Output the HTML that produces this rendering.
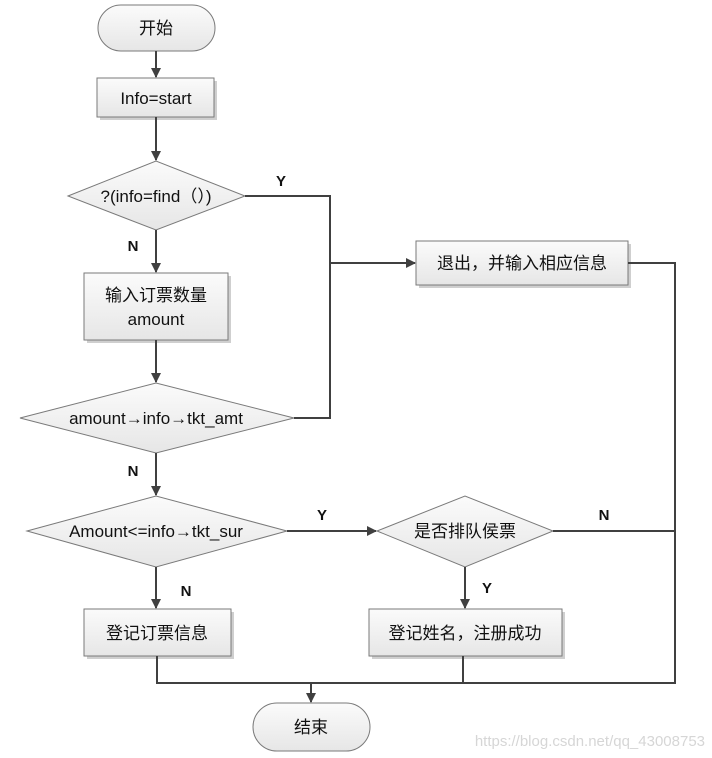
<!DOCTYPE html>
<html><head><meta charset="utf-8"><style>
html,body{margin:0;padding:0;background:#fff;}
svg{display:block;}
text{font-family:"Liberation Sans","Noto Sans CJK SC",sans-serif;fill:#111;}
</style></head><body>
<svg width="712" height="758" viewBox="0 0 712 758" xmlns="http://www.w3.org/2000/svg">
<defs>
<linearGradient id="g" x1="0" y1="0" x2="0" y2="1"><stop offset="0" stop-color="#fbfbfb"/><stop offset="1" stop-color="#e6e6e6"/></linearGradient>
<marker id="a" markerWidth="10" markerHeight="10" refX="9" refY="5" orient="auto" markerUnits="userSpaceOnUse"><path d="M0,0 L10,5 L0,10 z" fill="#404040"/></marker>
</defs>
<g fill="#cfcfcf">
<rect x="100" y="81" width="117" height="39"/>
<rect x="87" y="276" width="144" height="67"/>
<rect x="419" y="244" width="212" height="44"/>
<rect x="87" y="612" width="147" height="47"/>
<rect x="372" y="612" width="193" height="47"/>
</g>
<g stroke="#7a7a7a" stroke-width="1" fill="url(#g)">
<rect x="98" y="5" width="117" height="46" rx="23"/>
<rect x="97" y="78" width="117" height="39"/>
<polygon points="68,196 156,161 245,196 156,230"/>
<rect x="84" y="273" width="144" height="67"/>
<polygon points="20,418 156,383 294,418 156,453"/>
<rect x="416" y="241" width="212" height="44"/>
<polygon points="27,531 156,496 287,531 156,567"/>
<polygon points="377,531 465,496 553,531 465,567"/>
<rect x="84" y="609" width="147" height="47"/>
<rect x="369" y="609" width="193" height="47"/>
<rect x="253" y="703" width="117" height="48" rx="24"/>
</g>
<g stroke="#404040" stroke-width="2" fill="none">
<line x1="156" y1="51" x2="156" y2="77" marker-end="url(#a)"/>
<line x1="156" y1="117" x2="156" y2="160" marker-end="url(#a)"/>
<line x1="156" y1="230" x2="156" y2="272" marker-end="url(#a)"/>
<line x1="156" y1="340" x2="156" y2="382" marker-end="url(#a)"/>
<line x1="156" y1="453" x2="156" y2="495" marker-end="url(#a)"/>
<line x1="156" y1="567" x2="156" y2="608" marker-end="url(#a)"/>
<polyline points="245,196 330,196 330,418 294,418"/>
<line x1="330" y1="263" x2="415" y2="263" marker-end="url(#a)"/>
<polyline points="628,263 675,263 675,683 157,683 157,656"/>
<line x1="287" y1="531" x2="376" y2="531" marker-end="url(#a)"/>
<line x1="553" y1="531" x2="675" y2="531"/>
<line x1="465" y1="567" x2="465" y2="608" marker-end="url(#a)"/>
<line x1="463" y1="656" x2="463" y2="683"/>
<line x1="311" y1="683" x2="311" y2="702" marker-end="url(#a)"/>
</g>
<g font-size="17" text-anchor="middle">
<text x="156" y="34">开始</text>
<text x="156" y="104">Info=start</text>
<text x="156" y="202">?(info=find（）)</text>
<text x="156" y="301">输入订票数量</text>
<text x="156" y="325">amount</text>
<text x="156" y="424">amount→info→tkt_amt</text>
<text x="522" y="269">退出，并输入相应信息</text>
<text x="156" y="537">Amount&lt;=info→tkt_sur</text>
<text x="465" y="537">是否排队侯票</text>
<text x="157" y="639">登记订票信息</text>
<text x="465" y="639">登记姓名，注册成功</text>
<text x="311" y="733">结束</text>
</g>
<g font-size="15" font-weight="bold" text-anchor="middle">
<text x="281" y="186">Y</text>
<text x="133" y="251">N</text>
<text x="133" y="476">N</text>
<text x="322" y="520">Y</text>
<text x="604" y="520">N</text>
<text x="186" y="596">N</text>
<text x="487" y="593">Y</text>
</g>
<text x="705" y="746" font-size="15" text-anchor="end" style="fill:#d6d6d6">https://blog.csdn.net/qq_43008753</text>
</svg>
</body></html>
